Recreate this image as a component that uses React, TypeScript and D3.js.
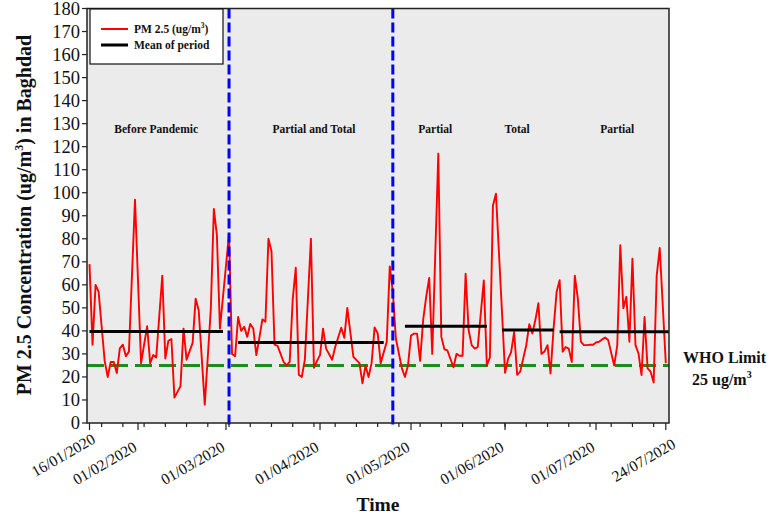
import React from 'react';
import * as d3 from 'd3';

// ---------- data ----------
const startDate = '2020-01-16';
const endDate = '2020-07-24';

// days since 16/01/2020 for each plotted PM2.5 point
const pmDay = [
  0, 1, 2, 3, 5, 6, 7, 8, 9, 10, 11, 12, 13, 15, 17, 19, 20, 21, 22, 24, 25, 26, 27, 28, 30,
  31, 32, 34, 35, 36, 38, 40, 41, 42, 43, 46, 47, 48, 49, 50, 51, 52, 53, 54, 55, 56, 57, 58,
  59, 60, 61, 62, 64, 65, 66, 67, 68, 69, 70, 71, 73, 74, 75, 76, 77, 78, 80, 81, 83, 84, 85,
  87, 89, 90, 91, 92, 93, 94, 95, 96, 98, 99, 100, 101, 103, 104, 105, 106, 107, 108, 109,
  110, 111, 112, 113, 115, 116, 117, 118, 119, 120, 121, 122, 123, 124, 125, 126, 127, 128,
  130, 131, 132, 133, 134, 136, 137, 138, 139, 140, 141, 142, 144, 145, 146, 147, 148, 149,
  150, 151, 152, 153, 154, 155, 156, 157, 158, 159, 160, 161, 162, 163, 164, 165, 166, 167,
  168, 169, 170, 171, 173, 174, 175, 176, 177, 178, 179, 180, 181, 182, 183, 184, 185, 186,
  187, 188, 190,
];
const pmValue = [
  69, 34, 60, 57, 27, 20, 26.5, 26.5, 21.7, 32.4, 34, 29, 31, 97, 26, 42, 26, 29.5, 28.5, 64, 28,
  35.7, 36.5, 11, 16, 41, 27.5, 34.8, 54, 49, 8, 49.6, 93, 81.5, 41, 82, 30, 29, 46, 40, 41.8,
  37.4, 43, 41, 29.5, 37, 45, 44, 80, 74.6, 34, 33.5, 26.5, 25, 26.6, 53.7, 67.4, 21, 20, 27.5,
  80, 24, 27, 29.5, 41, 32.3, 27.5, 33, 41.4, 37, 50, 28.7, 26, 17.2, 25, 20, 26, 41.5, 39, 26,
  35.3, 68, 57, 36.7, 23.7, 20, 25, 38, 38.8, 38.8, 27, 44.7, 54.8, 63, 30, 117, 37.4, 32, 31.5,
  27.8, 24.2, 30, 29.2, 29.2, 64.8, 40.3, 33.8, 32.3, 33, 61.9, 25, 28.5, 94.3, 99.6, 48, 21.8,
  27.8, 30.8, 39.5, 20.9, 22.3, 33.8, 42.9, 38.9, 44.7, 52, 30, 31, 33.8, 21.5, 41, 56.9, 62, 31,
  33, 32.3, 26.5, 64, 54, 35.3, 33.8, 33.8, 34, 34, 35, 35.3, 36.3, 37.1, 36, 25, 33.8, 77.2,
  49.8, 54.8, 35.3, 71.4, 33.8, 30.2, 20.8, 46, 23.7, 22.3, 17.6, 64, 76, 26,
];

const meanStart = ['2020-01-16', '2020-03-05', '2020-04-29', '2020-05-31', '2020-06-19'];
const meanEnd = ['2020-02-29', '2020-04-22', '2020-05-26', '2020-06-17', '2020-07-25'];
const meanValue = [39.7, 35, 42, 40.4, 39.6];

const breakDates = ['2020-03-02', '2020-04-25'];

const periodNames = ['Before Pandemic', 'Partial and Total', 'Partial', 'Total', 'Partial'];
const periodCenters = ['2020-02-07', '2020-03-30', '2020-05-09', '2020-06-05', '2020-07-08'];

const xTickDates = [
  '2020-01-16', '2020-02-01', '2020-03-01', '2020-04-01',
  '2020-05-01', '2020-06-01', '2020-07-01', '2020-07-24',
];
const yTicks = [0, 10, 20, 30, 40, 50, 60, 70, 80, 90, 100, 110, 120, 130, 140, 150, 160, 170, 180];
const whoLimit = 25;

// ---------- layout ----------
const W = 770;
const H = 515;
const L = 87;
const R = 669;
const T = 8.5;
const B = 423;
const SERIF = "'Liberation Serif', 'Times New Roman', serif";

const parse = d3.timeParse('%Y-%m-%d');
const fmt = d3.timeFormat('%d/%m/%Y');

export default function App() {
  const start = parse(startDate) as Date;
  const end = parse(endDate) as Date;
  const x = d3.scaleTime().domain([start, end]).range([89.5, 665.8]);
  const y = d3.scaleLinear().domain([0, 180]).range([B, T]);

  const pts = pmDay.map((d, i) => ({ date: d3.timeDay.offset(start, d), v: pmValue[i] }));
  const line = d3
    .line<{ date: Date; v: number }>()
    .x((d) => x(d.date))
    .y((d) => y(d.v));

  const mondays = d3.timeMonday.range(start, d3.timeDay.offset(end, 1));
  const majors = xTickDates.map((s) => parse(s) as Date);

  return (
    <svg
      width={W}
      height={H}
      style={{ position: 'absolute', left: 0, top: 0, background: '#fff' }}
      fontFamily={SERIF}
    >
      {/* plot background */}
      <rect x={L} y={T} width={R - L} height={B - T} fill="#ebebeb" />

      {/* WHO limit */}
      <line
        x1={L}
        x2={R}
        y1={y(whoLimit)}
        y2={y(whoLimit)}
        stroke="#1f8a1f"
        strokeWidth={3}
        strokeDasharray="17,7"
      />

      {/* PM2.5 series */}
      <path d={line(pts) || ''} fill="none" stroke="#ff0000" strokeWidth={1.9} strokeLinejoin="round" />

      {/* period means */}
      {meanValue.map((v, i) => (
        <line
          key={'m' + i}
          x1={x(parse(meanStart[i]) as Date)}
          x2={x(parse(meanEnd[i]) as Date)}
          y1={y(v)}
          y2={y(v)}
          stroke="#000"
          strokeWidth={3}
        />
      ))}

      {/* lockdown breaks */}
      {breakDates.map((s, i) => {
        const xx = x(parse(s) as Date);
        return (
          <line
            key={'b' + i}
            x1={xx}
            x2={xx}
            y1={T}
            y2={B + 3}
            stroke="#0000ff"
            strokeWidth={3}
            strokeDasharray="10,4"
          />
        );
      })}

      {/* frame */}
      <rect x={L} y={T} width={R - L} height={B - T} fill="none" stroke="#222" strokeWidth={1.5} />

      {/* y axis ticks */}
      {yTicks.map((t) => (
        <g key={'y' + t}>
          <line x1={L - 5} x2={L} y1={y(t)} y2={y(t)} stroke="#222" strokeWidth={1.2} />
          <text x={80} y={y(t)} dy="0.35em" textAnchor="end" fontSize={18.5} fill="#111">
            {t}
          </text>
        </g>
      ))}

      {/* x axis ticks */}
      {mondays.map((d, i) => (
        <line key={'mn' + i} x1={x(d)} x2={x(d)} y1={B} y2={B + 4} stroke="#222" strokeWidth={1.2} />
      ))}
      {majors.map((d, i) => (
        <line key={'mj' + i} x1={x(d)} x2={x(d)} y1={B} y2={B + 7} stroke="#222" strokeWidth={1.2} />
      ))}
      {majors.map((d, i) => {
        const first = i === 0;
        const last = i === majors.length - 1;
        const ax = x(d) + (first ? 7 : last ? 11 : 0);
        const ay = first ? 442 : last ? 447 : 450;
        return (
          <text
            key={'xl' + i}
            transform={`translate(${ax},${ay}) rotate(-30)`}
            textAnchor="end"
            fontSize={15.5}
            fill="#111"
          >
            {fmt(d)}
          </text>
        );
      })}

      {/* period labels */}
      {periodNames.map((n, i) => (
        <text
          key={'p' + i}
          x={x(parse(periodCenters[i]) as Date)}
          y={133}
          textAnchor="middle"
          fontSize={11.5}
          fontWeight="bold"
          fill="#111"
        >
          {n}
        </text>
      ))}

      {/* legend */}
      <rect x={90} y={9} width={133} height={55} fill="#fff" stroke="#111" strokeWidth={1.2} />
      <line x1={101} x2={128} y1={29} y2={29} stroke="#ff0000" strokeWidth={2} />
      <text x={134} y={33} fontSize={11.5} fontWeight="bold" fill="#111">
        PM 2.5 (ug/m
        <tspan fontSize={7.5} dy={-5}>
          3
        </tspan>
        <tspan dy={5}>)</tspan>
      </text>
      <line x1={101} x2={128} y1={45} y2={45} stroke="#000" strokeWidth={3} />
      <text x={134} y={49} fontSize={11.5} fontWeight="bold" fill="#111">
        Mean of period
      </text>

      {/* WHO annotation */}
      <text x={683} y={363} fontSize={16} fontWeight="bold" fill="#111">
        WHO Limit
      </text>
      <text x={692} y={385} fontSize={16} fontWeight="bold" fill="#111">
        25 ug/m
        <tspan fontSize={10} dy={-7}>
          3
        </tspan>
      </text>

      {/* axis titles */}
      <text x={378} y={511} textAnchor="middle" fontSize={19.5} fontWeight="bold" fill="#111">
        Time
      </text>
      <text
        transform={`translate(31,215) rotate(-90)`}
        textAnchor="middle"
        fontSize={20}
        fontWeight="bold"
        fill="#111"
      >
        PM 2.5 Concentration (ug/m
        <tspan fontSize={12} dy={-8}>
          3
        </tspan>
        <tspan dy={8}>) in Baghdad</tspan>
      </text>
    </svg>
  );
}
